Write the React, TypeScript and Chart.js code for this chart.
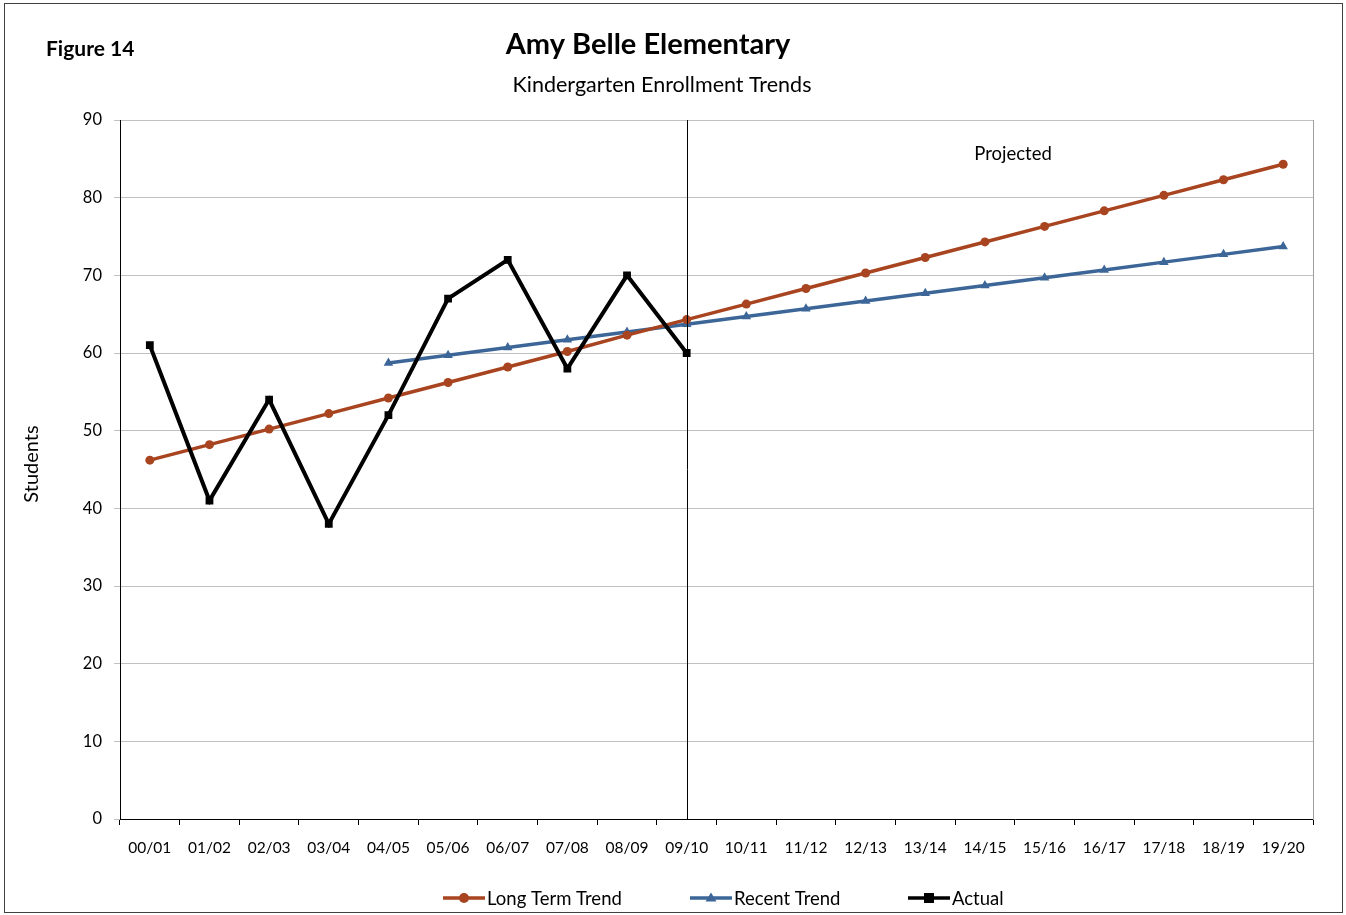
import React, { useEffect, useRef } from "react";
import { Chart, registerables } from "chart.js";

Chart.register(...registerables);

const categories = ["00/01","01/02","02/03","03/04","04/05","05/06","06/07","07/08","08/09","09/10","10/11","11/12","12/13","13/14","14/15","15/16","16/17","17/18","18/19","19/20"];
const longTermTrend = [46.2,48.2,50.2,52.2,54.2,56.2,58.2,60.2,62.3,64.3,66.3,68.3,70.3,72.3,74.3,76.3,78.3,80.3,82.3,84.3];
const recentTrend = [null,null,null,null,58.7,59.7,60.7,61.7,62.7,63.7,64.7,65.7,66.7,67.7,68.7,69.7,70.7,71.7,72.7,73.7];
const actual = [61,41,54,38,52,67,72,58,70,60,null,null,null,null,null,null,null,null,null,null];
const yTicks = [0,10,20,30,40,50,60,70,80,90];

const FONT = "Lato, 'Open Sans', sans-serif";
const C_LONG = "#A8441F";
const C_RECENT = "#3D6698";
const C_ACTUAL = "#000000";

const decorPlugin = {
  id: "decor",
  afterDatasetsDraw(chart: any) {
    const ctx = chart.ctx;
    const x = chart.scales.x;
    const area = chart.chartArea;
    ctx.save();
    const vx = Math.round(x.getPixelForValue(9)) + 0.5;
    ctx.strokeStyle = "#000";
    ctx.lineWidth = 1;
    ctx.beginPath();
    ctx.moveTo(vx, area.top);
    ctx.lineTo(vx, area.bottom);
    ctx.stroke();
    ctx.restore();
  },
  afterDraw(chart: any) {
    const ctx = chart.ctx;
    ctx.save();
    ctx.strokeStyle = "#404040";
    ctx.lineWidth = 1;
    ctx.strokeRect(4.5, 3.5, 1338, 909);
    ctx.fillStyle = "#000";
    ctx.textBaseline = "middle";
    ctx.textAlign = "left";
    ctx.font = `bold 21px ${FONT}`;
    ctx.fillText("Figure 14", 46, 49);
    ctx.textAlign = "center";
    ctx.font = `bold 29px ${FONT}`;
    ctx.fillText("Amy Belle Elementary", 648, 45);
    ctx.font = `21.5px ${FONT}`;
    ctx.fillText("Kindergarten Enrollment Trends", 662, 85);
    ctx.font = `18.5px ${FONT}`;
    ctx.fillText("Projected", 1013, 154);
    ctx.save();
    ctx.translate(32, 464);
    ctx.rotate(-Math.PI / 2);
    ctx.font = `20px ${FONT}`;
    ctx.fillText("Students", 0, 0);
    ctx.restore();
    const items = [
      { x: 443, label: "Long Term Trend", color: C_LONG, m: "circle" },
      { x: 690, label: "Recent Trend", color: C_RECENT, m: "triangle" },
      { x: 908, label: "Actual", color: C_ACTUAL, m: "square" },
    ];
    const ly = 898;
    for (const it of items) {
      ctx.strokeStyle = it.color;
      ctx.fillStyle = it.color;
      ctx.lineWidth = 3.5;
      ctx.beginPath();
      ctx.moveTo(it.x, ly);
      ctx.lineTo(it.x + 42, ly);
      ctx.stroke();
      const cx = it.x + 21;
      ctx.beginPath();
      if (it.m === "circle") {
        ctx.arc(cx, ly, 5, 0, Math.PI * 2);
      } else if (it.m === "triangle") {
        ctx.moveTo(cx, ly - 5.5);
        ctx.lineTo(cx + 5.5, ly + 3.5);
        ctx.lineTo(cx - 5.5, ly + 3.5);
        ctx.closePath();
      } else {
        ctx.rect(cx - 5, ly - 5, 10, 10);
      }
      ctx.fill();
      ctx.fillStyle = "#000";
      ctx.textAlign = "left";
      ctx.font = `18.5px ${FONT}`;
      ctx.fillText(it.label, it.x + 44, ly + 1);
    }
    ctx.restore();
  },
};

export default function App() {
  const ref = useRef<HTMLCanvasElement | null>(null);
  useEffect(() => {
    document.body.style.margin = "0";
    const chart = new Chart(ref.current as HTMLCanvasElement, {
      type: "line",
      data: {
        labels: categories,
        datasets: [
          {
            label: "Actual",
            data: actual,
            borderColor: C_ACTUAL,
            backgroundColor: C_ACTUAL,
            borderWidth: 4,
            pointStyle: "rect",
            pointRadius: 5.5,
            pointBorderWidth: 0,
            tension: 0,
            spanGaps: false,
            order: 0,
          },
          {
            label: "Long Term Trend",
            data: longTermTrend,
            borderColor: C_LONG,
            backgroundColor: C_LONG,
            borderWidth: 3.5,
            pointStyle: "circle",
            pointRadius: 4.5,
            pointBorderWidth: 0,
            tension: 0,
            order: 1,
          },
          {
            label: "Recent Trend",
            data: recentTrend,
            borderColor: C_RECENT,
            backgroundColor: C_RECENT,
            borderWidth: 3.5,
            pointStyle: "triangle",
            pointRadius: 5.5,
            pointBorderWidth: 0,
            tension: 0,
            order: 2,
          },
        ],
      },
      options: {
        animation: false,
        responsive: false,
        maintainAspectRatio: false,
        layout: { padding: { top: 120, right: 33, left: 0, bottom: 0 } },
        plugins: {
          legend: { display: false },
          title: { display: false },
          tooltip: { enabled: false },
        },
        scales: {
          x: {
            type: "category",
            offset: true,
            grid: {
              offset: true,
              drawOnChartArea: false,
              drawTicks: true,
              tickLength: 6,
              color: "#000",
            },
            border: { color: "#000", width: 1 },
            ticks: {
              color: "#000",
              font: { family: FONT, size: 15.5 },
              padding: 14,
              maxRotation: 0,
              autoSkip: false,
            },
            afterFit(scale: any) {
              scale.height = 96;
            },
          },
          y: {
            min: 0,
            max: 90,
            afterBuildTicks(scale: any) {
              scale.ticks = yTicks.map((v) => ({ value: v }));
            },
            grid: {
              color: "#C0C0C0",
              lineWidth: 1,
              drawTicks: true,
              tickLength: 6,
            },
            border: { color: "#000", width: 1 },
            ticks: {
              color: "#000",
              font: { family: FONT, size: 16.5 },
              padding: 12,
            },
            afterFit(scale: any) {
              scale.width = 120;
            },
          },
          y2: {
            position: "right",
            min: 0,
            max: 90,
            display: true,
            grid: { display: false, drawTicks: false },
            border: { color: "#A0A0A0", width: 1 },
            ticks: { display: false },
            afterFit(scale: any) {
              scale.width = 0;
            },
          },
        },
      },
      plugins: [decorPlugin],
    } as any);
    return () => chart.destroy();
  }, []);
  return (
    <div style={{ position: "absolute", left: 0, top: 0, width: 1346, height: 915, background: "#fff" }}>
      <canvas ref={ref} width={1346} height={915} style={{ width: 1346, height: 915 }} />
    </div>
  );
}
